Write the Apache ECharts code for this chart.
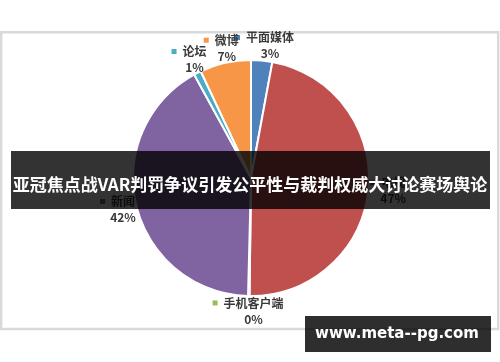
<!DOCTYPE html>
<html><head><meta charset="utf-8">
<script src="https://cdn.jsdelivr.net/npm/echarts@6/dist/echarts.min.js"></script>
<style>html,body{margin:0;padding:0;background:#fff}#c{width:500px;height:362px}</style>
</head><body><div id="c"></div>
<script>
const categories = ['平面媒体', '电视', '手机客户端', '新闻', '论坛', '微博'];
const values = [2.9, 47.3, 0.2, 41.6, 1.0, 7.0];
const colors = ['#4f81bd', '#c0504d', '#9bbb59', '#8064a2', '#4bacc6', '#f79646'];
const titleText = '亚冠焦点战VAR判罚争议引发公平性与裁判权威大讨论赛场舆论';
const watermark = 'www.meta--pg.com';

const FONT = '"Noto Sans CJK SC", "Noto Sans", sans-serif';
const data = categories.map((name, i) => ({
  name: name,
  value: values[i],
  itemStyle: { color: colors[i] },
  label: {
    rich: {
      m: { width: 5, height: 5, backgroundColor: colors[i] },
      n: { fontSize: 12, fontWeight: 'bold', color: '#3a3a3a', fontFamily: FONT, lineHeight: 16, padding: [0, 0, 0, 6] },
      p: { fontSize: 12, fontWeight: 'bold', color: '#3a3a3a', fontFamily: FONT, lineHeight: 16, padding: [0, 0, 0, 11] }
    }
  }
}));

const chart = echarts.init(document.getElementById('c'), null, { renderer: 'canvas' });
chart.setOption({
  animation: false,
  backgroundColor: '#ffffff',
  series: [{
    type: 'pie',
    center: [251, 178],
    radius: 118,
    startAngle: 90,
    clockwise: true,
    avoidLabelOverlap: false,
    minShowLabelAngle: 0,
    itemStyle: { borderColor: '#ffffff', borderWidth: 2 },
    label: {
      show: true,
      position: 'outside',
      formatter: p => '{m|}{n|' + p.name + '}\n{p|' + Math.round(p.percent) + '%}'
    },
    labelLine: { show: true, length: 1, length2: 0, lineStyle: { color: 'rgba(0,0,0,0)', width: 1 } },
    labelLayout: function (params) {
      const pts = params.labelLinePoints;
      if (!pts) return {};
      const dx = pts[1][0] - pts[0][0], dy = pts[1][1] - pts[0][1];
      const len = Math.hypot(dx, dy) || 1;
      const ux = dx / len, uy = dy / len;
      const w = params.labelRect.width, h = params.labelRect.height;
      return { x: pts[1][0] + ux * w / 2, y: pts[1][1] + uy * h / 2, align: 'center', verticalAlign: 'middle' };
    },
    data: data
  }],
  graphic: [
    { type: 'rect', z: 0, silent: true, shape: { x: 1.2, y: 32.2, width: 497, height: 296.8 }, style: { fill: 'none', stroke: '#d9d9d9', lineWidth: 2.4 } },
    { type: 'rect', z: 100, silent: true, shape: { x: 11, y: 151, width: 479, height: 58 }, style: { fill: 'rgba(0,0,0,0.8)' } },
    { type: 'text', z: 101, silent: true, x: 250, y: 185, style: { text: titleText, fill: '#ffffff', font: 'bold 17px ' + FONT, align: 'center', verticalAlign: 'middle' } },
    { type: 'rect', z: 100, silent: true, shape: { x: 305, y: 316, width: 186, height: 36 }, style: { fill: 'rgba(0,0,0,0.82)' } },
    { type: 'text', z: 101, silent: true, x: 397, y: 334, style: { text: watermark, fill: '#ffffff', font: 'bold 15px "DejaVu Sans", sans-serif', align: 'center', verticalAlign: 'middle' } }
  ]
});
</script>
</body></html>
